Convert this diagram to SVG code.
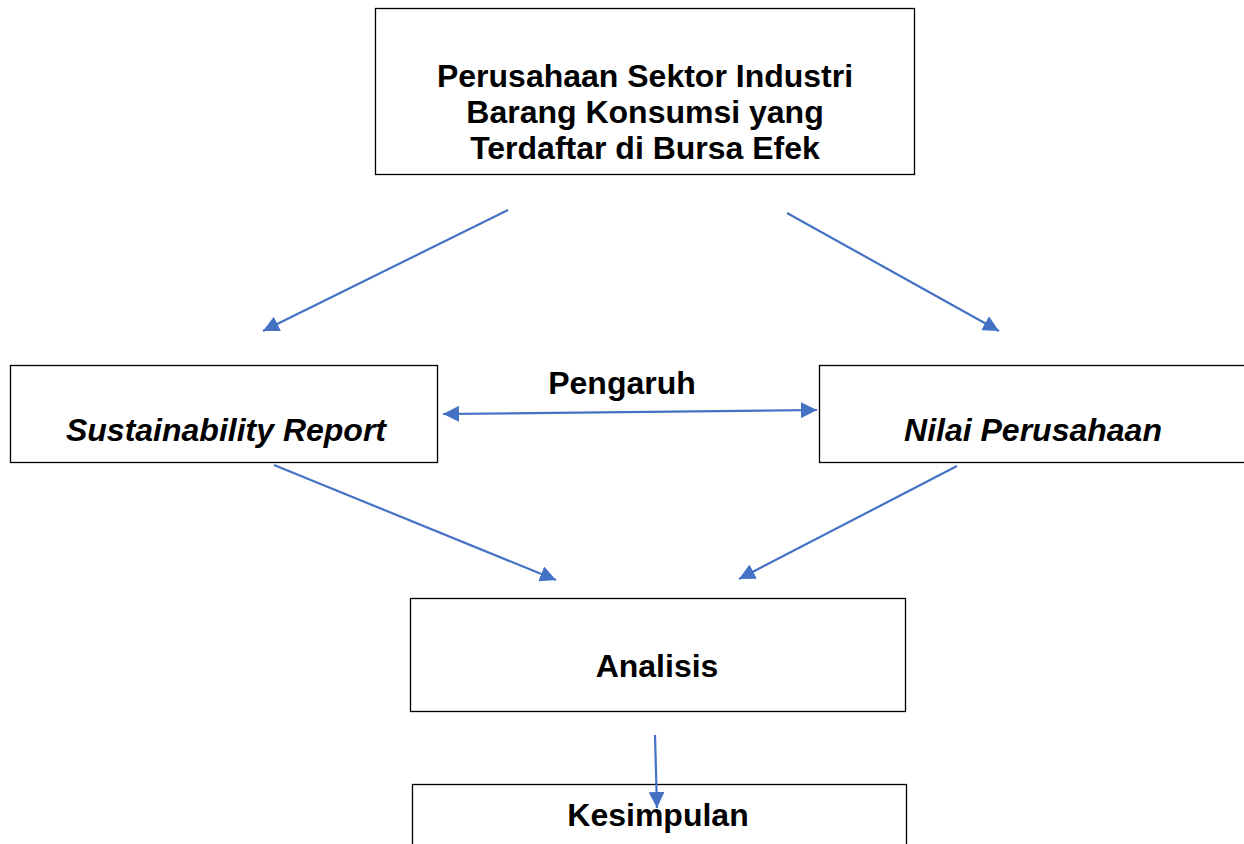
<svg xmlns="http://www.w3.org/2000/svg" width="1244" height="844" viewBox="0 0 1244 844">
<defs>
<marker id="ah" markerWidth="18" markerHeight="16" refX="16" refY="8" orient="auto-start-reverse" markerUnits="userSpaceOnUse">
<path d="M0,0 L16,8 L0,16 Z" fill="#4472C4"/>
</marker>
<style>
.box{fill:#fff;stroke:#000;stroke-width:1.3}
.t{font-family:"Liberation Sans",Arial,sans-serif;font-weight:bold;font-size:32px;fill:#000;text-anchor:middle}
.i{font-style:italic}
.c{stroke:#4472C4;stroke-width:2.2;fill:none;marker-end:url(#ah)}
</style>
</defs>
<rect width="1244" height="844" fill="#fff"/>
<g id="n-top">
<rect class="box" x="375.5" y="8.5" width="539" height="166"/>
<text class="t" x="645" y="87">Perusahaan Sektor Industri</text>
<text class="t" x="645" y="123">Barang Konsumsi yang</text>
<text class="t" x="645" y="159">Terdaftar di Bursa Efek</text>
</g>
<g id="n-sr">
<rect class="box" x="10.5" y="365.5" width="427" height="97"/>
<text class="t i" x="226" y="441">Sustainability Report</text>
</g>
<g id="n-np">
<rect class="box" x="819.5" y="365.5" width="440" height="97"/>
<text class="t i" x="1033" y="441">Nilai Perusahaan</text>
</g>
<g id="n-an">
<rect class="box" x="410.5" y="598.5" width="495" height="113"/>
<text class="t" x="657" y="677">Analisis</text>
</g>
<g id="n-ks">
<rect class="box" x="412.5" y="784.5" width="494" height="80"/>
<text class="t" x="658" y="826">Kesimpulan</text>
</g>
<g id="label">
<text class="t" x="622" y="394">Pengaruh</text>
</g>
<g id="connectors">
<line class="c" x1="508" y1="210" x2="263" y2="331"/>
<line class="c" x1="787" y1="213" x2="999" y2="331"/>
<line class="c" x1="443" y1="414" x2="817" y2="410" style="marker-start:url(#ah)"/>
<line class="c" x1="274" y1="465" x2="556" y2="580"/>
<line class="c" x1="957" y1="466" x2="739" y2="579"/>
<line class="c" x1="655" y1="735" x2="657" y2="808"/>
</g>
</svg>
